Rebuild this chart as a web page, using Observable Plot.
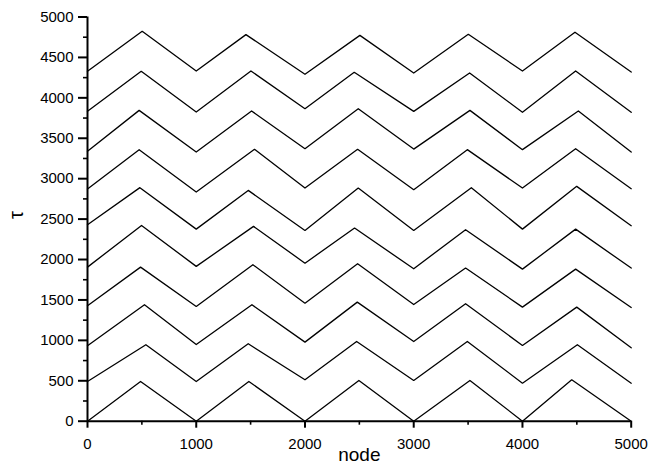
<!DOCTYPE html>
<html>
<head>
<meta charset="utf-8">
<script src="https://cdn.jsdelivr.net/npm/d3@7"></script>
<script src="https://cdn.jsdelivr.net/npm/@observablehq/plot@0.6"></script>
<style>
  html, body { margin: 0; padding: 0; background: #fff; }
</style>
</head>
<body>
<div id="chart"></div>
<script>
// Tick values
const xMajorTicks = [0, 1000, 2000, 3000, 4000, 5000];
const xMinorTicks = [500, 1500, 2500, 3500, 4500];
const yMajorTicks = [0, 500, 1000, 1500, 2000, 2500, 3000, 3500, 4000, 4500, 5000];
const yMinorTicks = [250, 750, 1250, 1750, 2250, 2750, 3250, 3750, 4250, 4750];

// Trough nodes (shared) and peak nodes per line
const troughNodes = [0, 1000, 2000, 3000, 4000, 5000];

const peaks1 = [488, 1484, 2496, 3517, 4453];
const peaks2 = [537, 1478, 2475, 3493, 4505];
const peaks3 = [524, 1512, 2481, 3477, 4499];
const peaks4 = [488, 1521, 2484, 3477, 4489];
const peaks5 = [497, 1527, 2456, 3477, 4489];
const peaks6 = [482, 1478, 2490, 3530, 4499];
const peaks7 = [475, 1536, 2484, 3493, 4489];
const peaks8 = [475, 1509, 2490, 3517, 4514];
const peaks9 = [494, 1503, 2453, 3514, 4489];
const peaks10 = [503, 1457, 2505, 3502, 4483];

// tau values: trough, peak, trough, peak, ... (11 points per line)
const tau1 = [0, 491, 0, 491, 0, 504, 0, 504, 0, 512, 0];
const tau2 = [491, 946, 491, 958, 512, 986, 504, 986, 470, 946, 470];
const tau3 = [933, 1441, 949, 1441, 978, 1473, 986, 1453, 937, 1411, 908];
const tau4 = [1428, 1906, 1420, 1936, 1460, 1948, 1444, 1894, 1411, 1881, 1407];
const tau5 = [1906, 2422, 1915, 2410, 1955, 2389, 1886, 2369, 1881, 2376, 1894];
const tau6 = [2430, 2889, 2376, 2855, 2360, 2884, 2360, 2889, 2376, 2905, 2418];
const tau7 = [2871, 3359, 2834, 3363, 2884, 3363, 2864, 3359, 2884, 3371, 2876];
const tau8 = [3338, 3845, 3329, 3837, 3371, 3866, 3366, 3845, 3359, 3837, 3329];
const tau9 = [3833, 4328, 3824, 4332, 3866, 4316, 3833, 4307, 3821, 4332, 3821];
const tau10 = [4328, 4823, 4332, 4782, 4291, 4773, 4307, 4786, 4332, 4811, 4319];

const peakLists = [peaks1, peaks2, peaks3, peaks4, peaks5, peaks6, peaks7, peaks8, peaks9, peaks10];
const tauLists = [tau1, tau2, tau3, tau4, tau5, tau6, tau7, tau8, tau9, tau10];

const rows = [];
tauLists.forEach((taus, li) => {
  const pk = peakLists[li];
  const nodes = [];
  for (let i = 0; i < troughNodes.length; i++) {
    nodes.push(troughNodes[i]);
    if (i < pk.length) nodes.push(pk[i]);
  }
  nodes.forEach((n, j) => rows.push({series: li, node: n, tau: taus[j]}));
});

const chart = Plot.plot({
  width: 648,
  height: 466,
  marginLeft: 87,
  marginRight: 17.3,
  marginTop: 16.5,
  marginBottom: 45.3,
  style: {
    fontFamily: "Arial, 'Liberation Sans', Helvetica, sans-serif",
    fontSize: "15px",
    background: "#fff",
    color: "#000"
  },
  x: {domain: [0, 5000], label: null},
  y: {domain: [0, 5000], label: null},
  marks: [
    Plot.axisY({ticks: yMajorTicks, tickSize: 9, tickPadding: 5, tickFormat: "d", strokeWidth: 2, label: null}),
    Plot.axisY({ticks: yMinorTicks, tickSize: 4, tickFormat: () => "", strokeWidth: 1.6, label: null}),
    Plot.axisX({ticks: xMajorTicks, tickSize: 7, tickPadding: 10, tickFormat: "d", strokeWidth: 2, label: null}),
    Plot.axisX({ticks: xMinorTicks, tickSize: 4, tickFormat: () => "", strokeWidth: 1.6, label: null}),
    Plot.ruleX([0], {stroke: "#000", strokeWidth: 2}),
    Plot.ruleY([0], {stroke: "#000", strokeWidth: 2}),
    Plot.line(rows, {x: "node", y: "tau", z: "series", stroke: "#000", strokeWidth: 1.3}),
    Plot.text(["node"], {frameAnchor: "bottom", dy: 40, lineAnchor: "bottom", fontSize: 19, fill: "#000"}),
    Plot.text(["τ"], {frameAnchor: "left", dx: -71, rotate: -90, fontSize: 20, fill: "#000"})
  ]
});

document.getElementById("chart").appendChild(chart);
</script>
</body>
</html>
